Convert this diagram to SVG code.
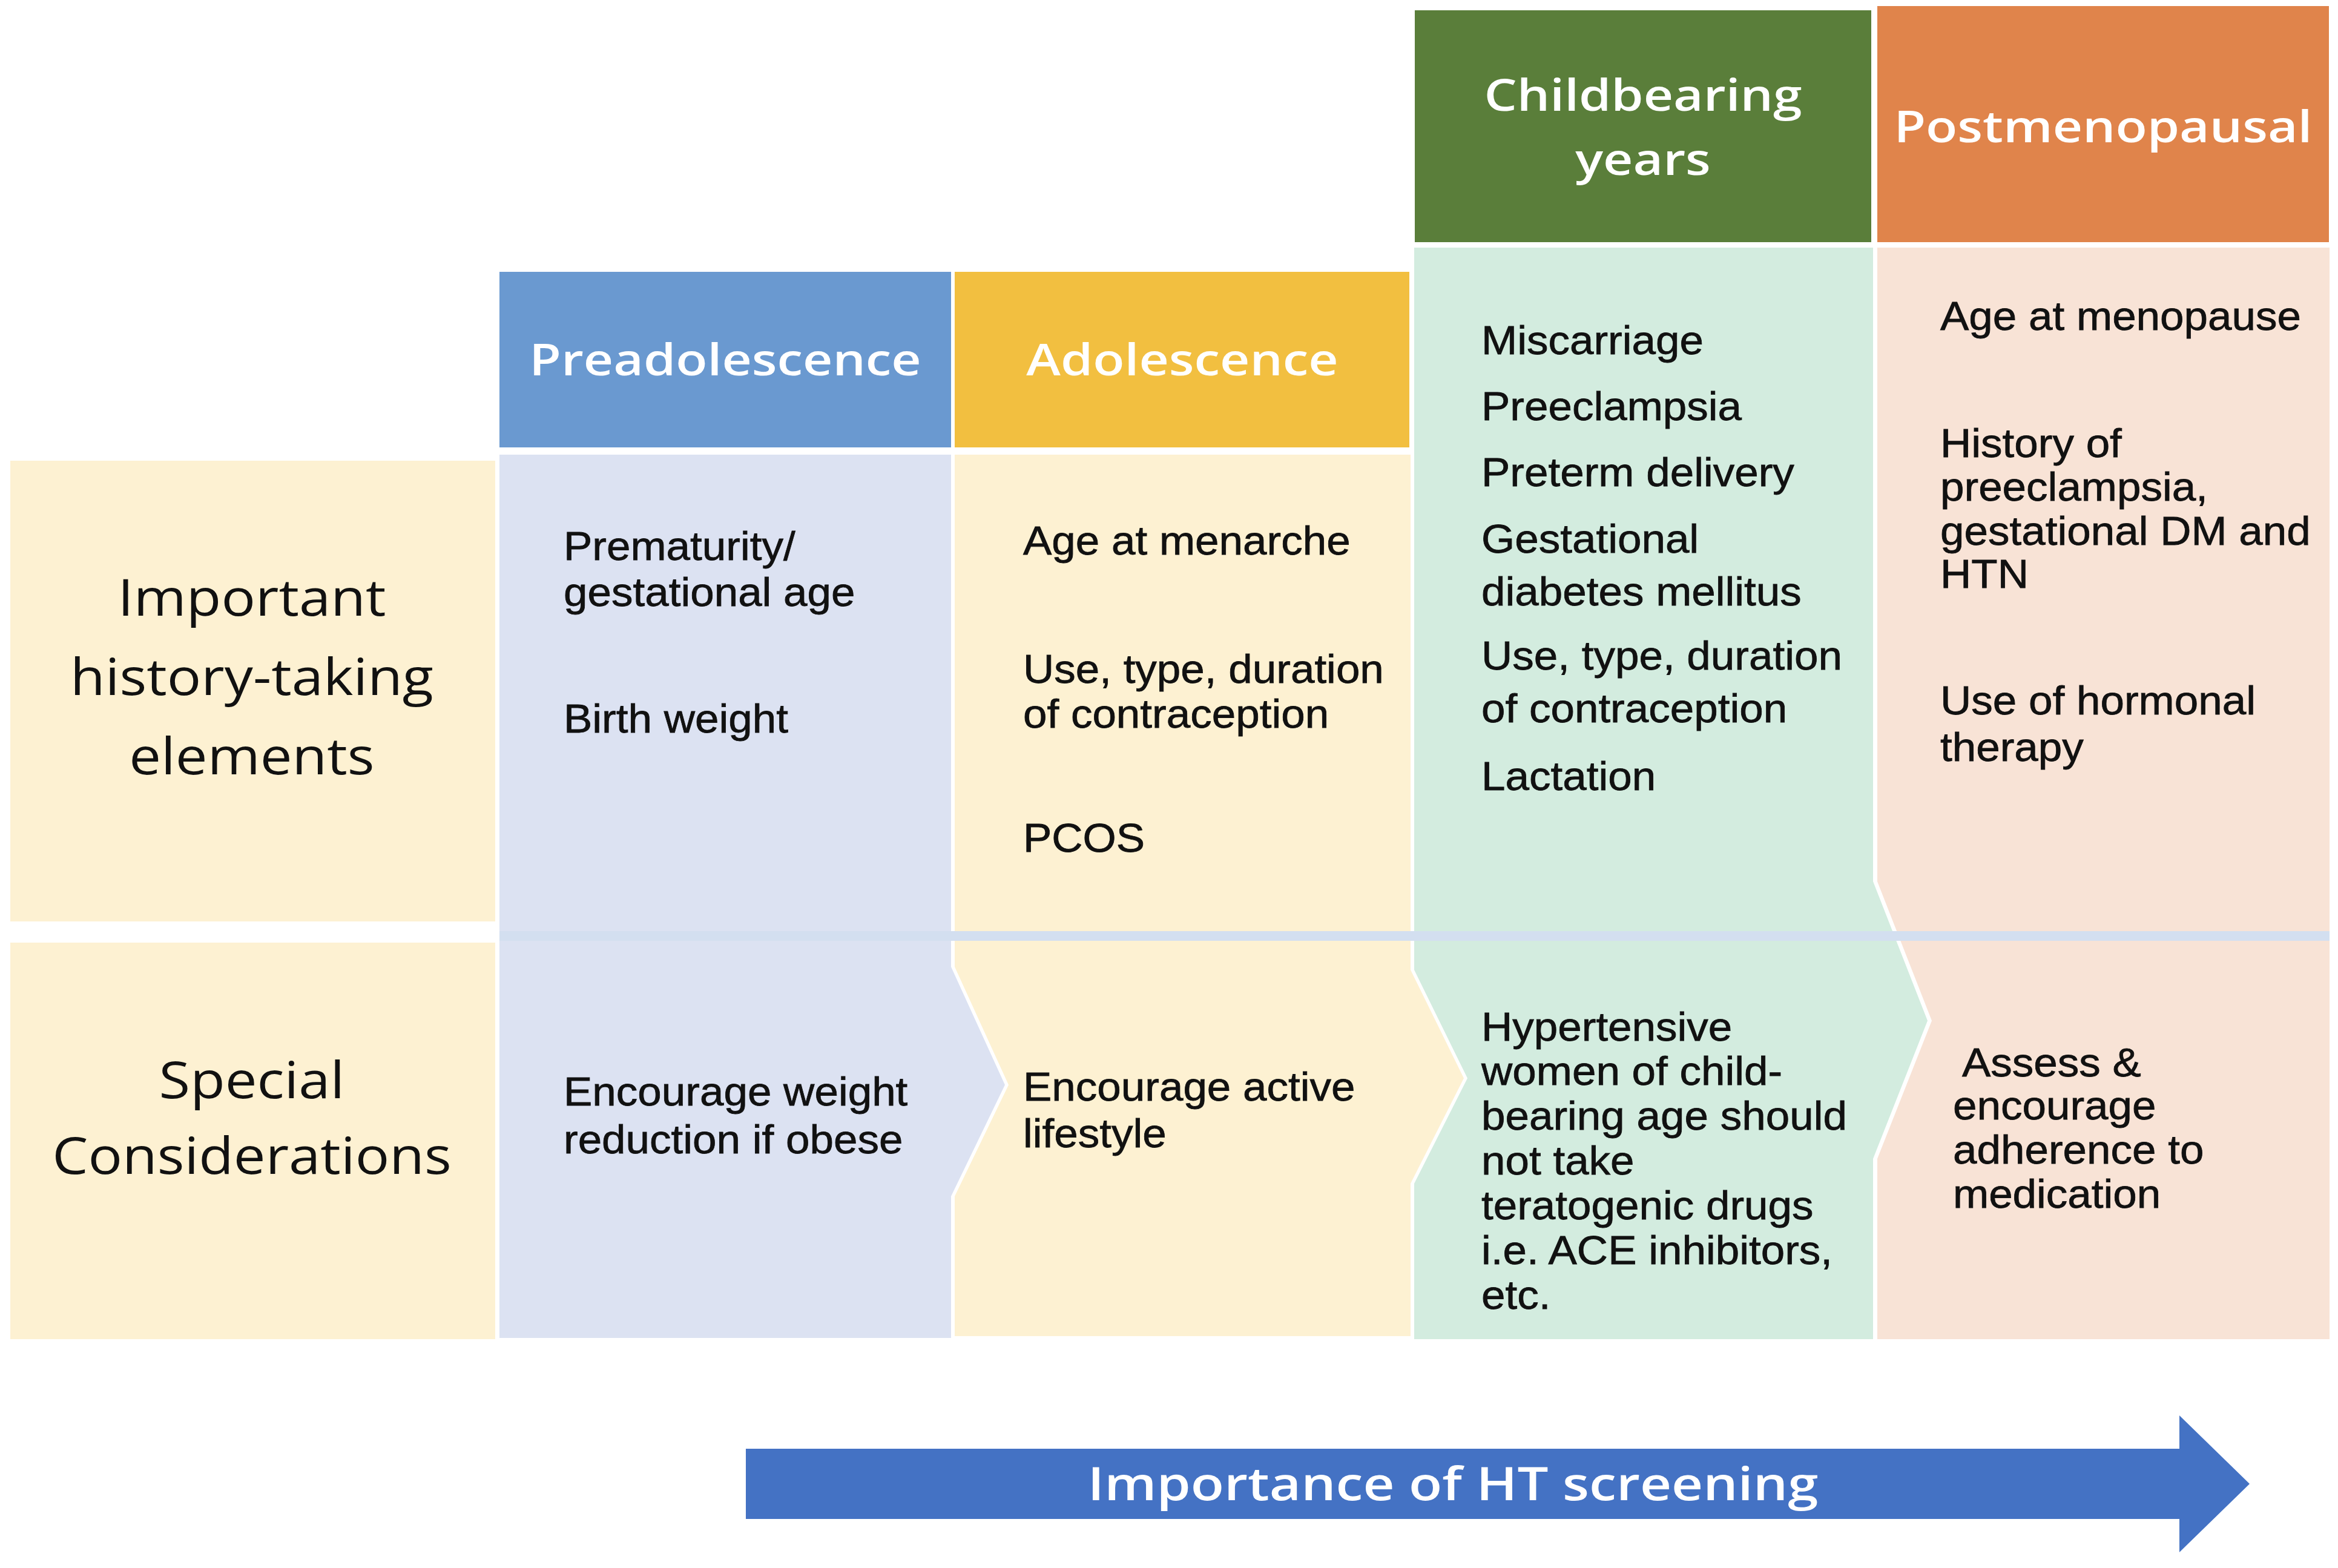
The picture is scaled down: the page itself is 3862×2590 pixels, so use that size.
<svg xmlns="http://www.w3.org/2000/svg" width="3862" height="2590" viewBox="0 0 3862 2590">
<style>
.hdr{font-family:"Open Sans","Noto Sans",sans-serif;font-weight:600;font-size:72px;fill:#ffffff;text-anchor:middle}
.lbl{font-family:"Open Sans","Noto Sans",sans-serif;font-weight:400;font-size:84px;fill:#111111;text-anchor:middle}
.txt{font-family:"Liberation Sans",Arial,sans-serif;font-size:67px;fill:#111111;stroke:#111111;stroke-width:0.8}
.arr{font-family:"Open Sans","Noto Sans",sans-serif;font-weight:600;font-size:76px;fill:#ffffff;text-anchor:middle}
.lab{fill:#FDF1D2}
</style>
<rect x="0" y="0" width="3862" height="2590" fill="#ffffff"/>

<g id="label-history">
<rect class="lab" x="17" y="761" width="801" height="761"/>
<text class="lbl" transform="scale(1.12 1)"><tspan x="371.4" y="1017">Important</tspan><tspan x="371.4" y="1148">history-taking</tspan><tspan x="371.4" y="1279">elements</tspan></text>
</g>

<g id="label-special">
<rect class="lab" x="17" y="1557" width="801" height="655"/>
<text class="lbl" transform="scale(1.12 1)"><tspan x="371.4" y="1814">Special</tspan><tspan x="371.4" y="1939">Considerations</tspan></text>
</g>

<g id="preadolescence">
<rect x="825" y="449" width="746" height="290" fill="#6A99D0"/>
<path d="M825,751 H1571 V1597 L1660,1792 L1571,1976 V2210 H825 Z" fill="#DCE2F2"/>
<text class="hdr" transform="scale(1.19 1)" x="1006.7" y="620">Preadolescence</text>
</g>

<g id="adolescence">
<rect x="1577" y="449" width="751" height="290" fill="#F2BF40"/>
<path d="M1577,751 H2330 V1602 L2418,1781 L2330,1955 V2207 H1577 V1976 L1666,1792 L1577,1597 Z" fill="#FDF1D2"/>
<text class="hdr" transform="scale(1.19 1)" x="1641.2" y="620">Adolescence</text>
</g>

<g id="childbearing">
<rect x="2337" y="17" width="754" height="383" fill="#5A7E3A"/>
<path d="M2336,409 H3094 V1456 L3184,1686 L3094,1914 V2212 H2336 V1955 L2424,1781 L2336,1602 Z" fill="#D3ECDF"/>
<text class="hdr" transform="scale(1.19 1)"><tspan x="2280.7" y="183">Childbearing</tspan><tspan x="2280.7" y="289">years</tspan></text>
</g>

<g id="postmenopausal">
<rect x="3101" y="10" width="746" height="390" fill="#E0844B"/>
<path d="M3101,409 H3848 V2212 H3101 V1914 L3191,1686 L3101,1456 Z" fill="#F8E3D6"/>
<text class="hdr" transform="scale(1.19 1)" x="2919.3" y="235">Postmenopausal</text>
</g>

<g id="row-separator">
<rect x="825" y="1538" width="3023" height="16" fill="#D3DFF0"/>
</g>

<g id="preadolescence-text">
<text class="txt" transform="scale(1.06 1)"><tspan x="878.3" y="925">Prematurity/</tspan><tspan x="878.3" y="1001">gestational age</tspan><tspan x="878.3" y="1210">Birth weight</tspan></text>
<text class="txt" transform="scale(1.06 1)"><tspan x="878.3" y="1826">Encourage weight</tspan><tspan x="878.3" y="1905">reduction if obese</tspan></text>
</g>

<g id="adolescence-text">
<text class="txt" transform="scale(1.06 1)"><tspan x="1594.3" y="916">Age at menarche</tspan><tspan x="1594.3" y="1128">Use, type, duration</tspan><tspan x="1594.3" y="1202">of contraception</tspan><tspan x="1594.3" y="1407">PCOS</tspan></text>
<text class="txt" transform="scale(1.06 1)"><tspan x="1594.3" y="1818">Encourage active</tspan><tspan x="1594.3" y="1895">lifestyle</tspan></text>
</g>

<g id="childbearing-text">
<text class="txt" transform="scale(1.06 1)"><tspan x="2308.5" y="585">Miscarriage</tspan><tspan x="2308.5" y="694">Preeclampsia</tspan><tspan x="2308.5" y="803">Preterm delivery</tspan><tspan x="2308.5" y="913">Gestational</tspan><tspan x="2308.5" y="1000">diabetes mellitus</tspan><tspan x="2308.5" y="1106">Use, type, duration</tspan><tspan x="2308.5" y="1193">of contraception</tspan><tspan x="2308.5" y="1305">Lactation</tspan></text>
<text class="txt" transform="scale(1.06 1)"><tspan x="2308.5" y="1719">Hypertensive</tspan><tspan x="2308.5" y="1792">women of child-</tspan><tspan x="2308.5" y="1866">bearing age should</tspan><tspan x="2308.5" y="1940">not take</tspan><tspan x="2308.5" y="2014">teratogenic drugs</tspan><tspan x="2308.5" y="2088">i.e. ACE inhibitors,</tspan><tspan x="2308.5" y="2162">etc.</tspan></text>
</g>

<g id="postmenopausal-text">
<text class="txt" transform="scale(1.06 1)"><tspan x="3023.6" y="545">Age at menopause</tspan><tspan x="3023.6" y="755">History of</tspan><tspan x="3023.6" y="827">preeclampsia,</tspan><tspan x="3023.6" y="900">gestational DM and</tspan><tspan x="3023.6" y="971">HTN</tspan><tspan x="3023.6" y="1180">Use of hormonal</tspan><tspan x="3023.6" y="1257">therapy</tspan></text>
<text class="txt" transform="scale(1.06 1)"><tspan x="3057.5" y="1778">Assess &amp;</tspan><tspan x="3043.4" y="1849">encourage</tspan><tspan x="3043.4" y="1922">adherence to</tspan><tspan x="3043.4" y="1995">medication</tspan></text>
</g>

<g id="connectors">
<g id="importance-arrow">
<path d="M1232,2393 H3600 V2338 L3716,2451 L3600,2564 V2509 H1232 Z" fill="#4472C4"/>
<text class="arr" transform="scale(1.19 1)" x="2016.8" y="2478">Importance of HT screening</text>
</g>
</g>
</svg>
